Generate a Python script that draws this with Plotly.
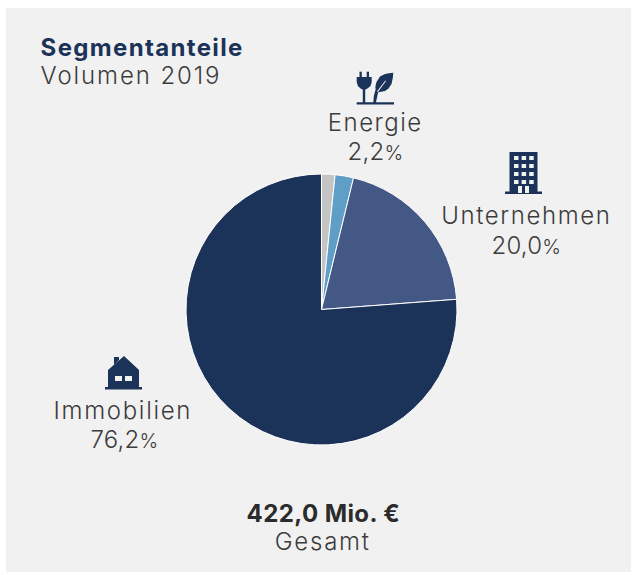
import plotly.graph_objects as go

W, H = 633, 575
labels = ["Sonstige", "Energie", "Unternehmen", "Immobilien"]
values = [1.6, 2.2, 20.0, 76.2]
colors = ["#c4c4c4", "#5f9ec6", "#445885", "#1c3359"]
title = "Segmentanteile"
subtitle = "Volumen 2019"
total = "422,0 Mio. €"
total_label = "Gesamt"
pct_energie = "2,2"
pct_unternehmen = "20,0"
pct_immobilien = "76,2"
NAVY = "#1c3359"
TXT = "#3c3c3c"
FONT = "Inter"

def X(v): return v / W
def Y(v): return 1 - v / H
def poly(pts):
    return "M" + " L".join(f"{X(a):.5f},{Y(b):.5f}" for a, b in pts) + " Z"
def rect(x0, y0, x1, y1, color):
    return dict(type="rect", xref="paper", yref="paper", x0=X(x0), x1=X(x1), y0=Y(y1), y1=Y(y0),
                fillcolor=color, line=dict(width=0), layer="above")
def shp(d, color=NAVY):
    return dict(type="path", xref="paper", yref="paper", path=d, fillcolor=color, line=dict(width=0), layer="above")

BG = "#f1f1f1"
shapes = [dict(type="rect", xref="paper", yref="paper", x0=X(6), x1=X(631), y0=Y(572), y1=Y(8),
               fillcolor=BG, line=dict(width=0), layer="below")]

# building icon
shapes.append(rect(509.5, 152, 537.5, 192, NAVY))
shapes.append(rect(505, 191.5, 542, 194, NAVY))
for r in range(4):
    for c in range(3):
        shapes.append(rect(514 + c * 7.6, 156 + r * 8, 518.5 + c * 7.6, 160 + r * 8, BG))
shapes.append(rect(518, 186, 522, 193, BG))
shapes.append(rect(525, 186, 529, 193, BG))

# house icon
shapes.append(shp(poly([(114, 357), (119, 357), (119, 360), (114, 365)])))
shapes.append(shp(poly([(124, 356), (139, 370), (139, 387), (108, 387), (108, 370)])))
shapes.append(rect(105, 387, 142, 389.5, NAVY))
shapes.append(rect(115, 376, 122, 381, BG))
shapes.append(rect(125, 376, 132, 381, BG))

# plug and leaf icon
shapes.append(rect(359.5, 71.7, 361.8, 78, NAVY))
shapes.append(rect(366.7, 71.7, 369, 78, NAVY))
shapes.append(shp(poly([(356.7, 77), (371.7, 77), (371.7, 82), (370.5, 86), (367.5, 88.5), (365.3, 89.5),
                        (362.7, 89.5), (360.5, 88.5), (357.9, 86), (356.7, 82)])))
shapes.append(rect(362.8, 88, 365.2, 103, NAVY))
shapes.append(shp(poly([(393.3, 72.7), (392.8, 78), (391.5, 84), (388.5, 88.5), (385, 91), (380, 92), (376, 92.5),
                        (375.3, 87), (376.5, 82), (380, 76.5), (385, 74), (389, 73.2)])))
shapes.append(shp(poly([(375.5, 90), (378.5, 90.5), (375.8, 103), (373.3, 103), (373.8, 96)])))
shapes.append(shp(poly([(377, 91.5), (378, 92), (386, 81), (385.3, 80.5)]), BG))
shapes.append(rect(356.7, 102.3, 394, 104.5, NAVY))

spacing = []
def text(x, y, s, color=TXT, bold=False, ls=0):
    spacing.append(ls)
    return dict(xref="paper", yref="paper", x=X(x), y=Y(y), text=f"<b>{s}</b>" if bold else s,
                showarrow=False, xanchor="center", yanchor="middle",
                font=dict(family=FONT, size=24, color=color, weight=700 if bold else 300))
def pct(v):
    return f'{v}<span style="font-size:20px">%</span>'

annotations = [
    text(141.5, 47, title, NAVY, True, 1.35),
    text(130.5, 75, subtitle, TXT, False, 1.9),
    text(375.5, 122, labels[1], TXT, False, 1.5),
    text(375.5, 151, pct(pct_energie), TXT, False, 0.2),
    text(526, 216, labels[2], TXT, False, 1.6),
    text(526, 245, pct(pct_unternehmen), TXT, False, 0.2),
    text(123, 410, labels[3], TXT, False, 1.7),
    text(124.5, 439, pct(pct_immobilien), TXT, False, 0.2),
    text(323, 513, total, "#2b2b2b", True, 0.4),
    text(322.5, 541, total_label, TXT, False, 1.75),
]

cx, cy, R = 321.5, 309.5, 135.5
pie = go.Pie(labels=labels, values=values, sort=False, direction="clockwise", rotation=0,
             marker=dict(colors=colors, line=dict(color="#ffffff", width=1)),
             textinfo="none", hoverinfo="label+percent", showlegend=False,
             domain=dict(x=[X(cx - R), X(cx + R)], y=[Y(cy + R), Y(cy - R)]))

fig = go.Figure(pie)
fig.update_layout(width=W, height=H, margin=dict(l=0, r=0, t=0, b=0), paper_bgcolor="#ffffff",
                  shapes=shapes, annotations=annotations, autosize=False)
js = ("document.body.style.margin='0';document.documentElement.style.overflow='hidden';"
      f"var ls={spacing};"
      "document.querySelectorAll('.annotation-text').forEach(function(t,i){t.style.letterSpacing=ls[i]+'px';});")
fig.write_html("out.html", post_script=js, config={"displayModeBar": False})
